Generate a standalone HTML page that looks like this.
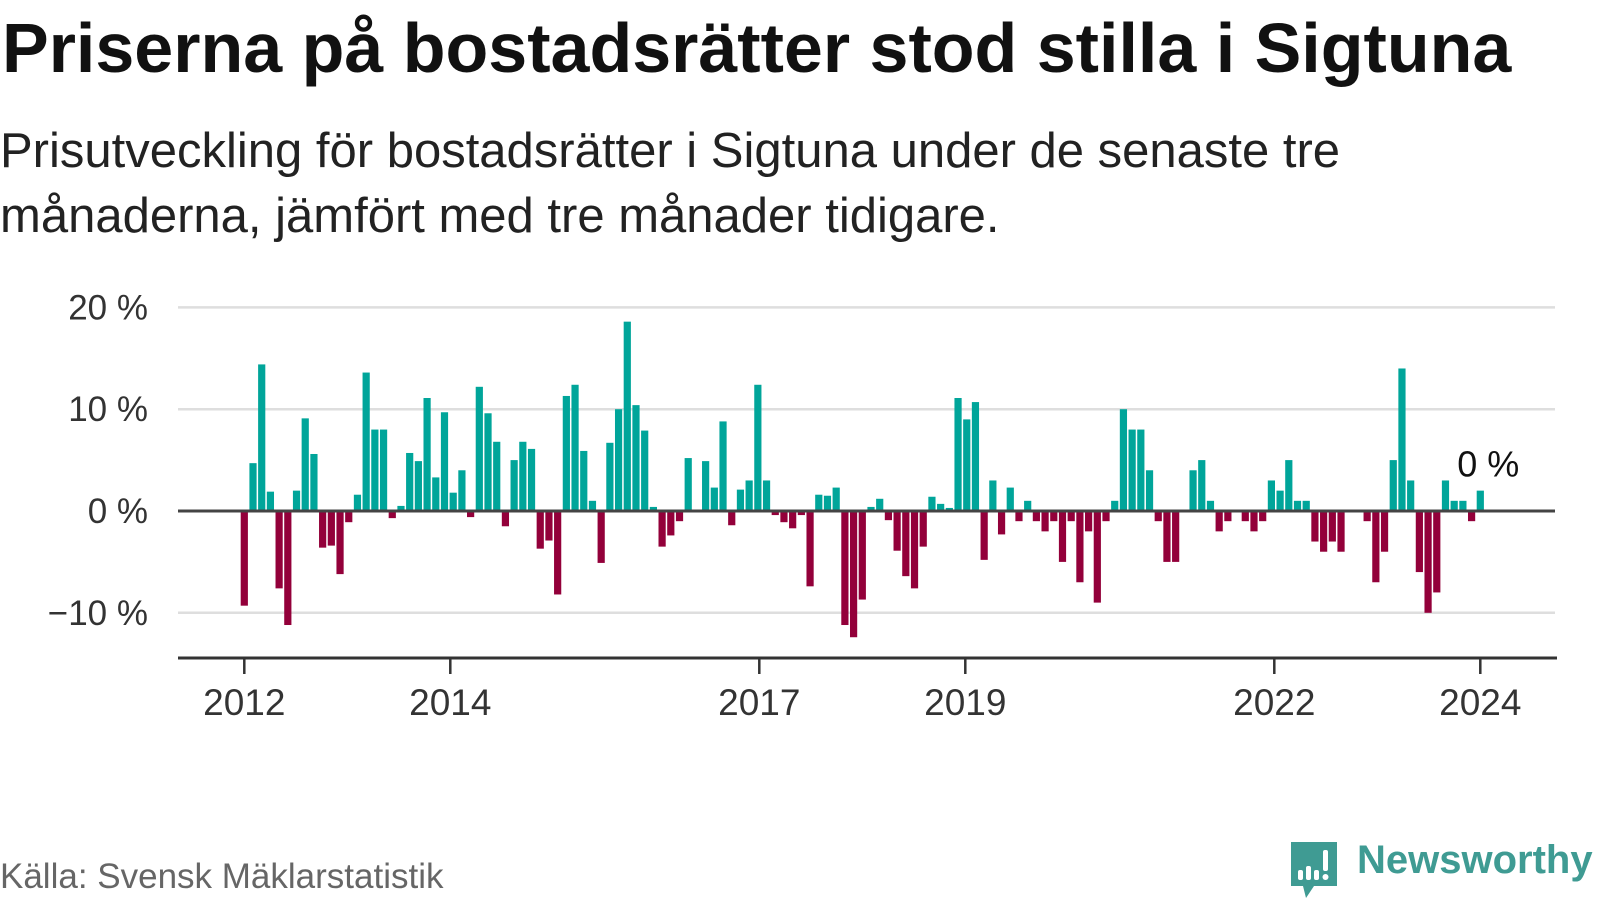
<!DOCTYPE html>
<html><head><meta charset="utf-8">
<style>
body{margin:0;width:1600px;height:900px;background:#fff;overflow:hidden;font-family:"Liberation Sans",sans-serif;}
#title{position:absolute;left:2px;top:13px;font-size:70px;line-height:70px;font-weight:bold;color:#111;margin:0;white-space:nowrap;}
#sub{position:absolute;left:0;top:119px;font-size:49px;line-height:65px;color:#222;width:1580px;white-space:nowrap;}
#src{position:absolute;left:0;top:859px;font-size:35px;line-height:35px;color:#666;white-space:nowrap;}
svg{position:absolute;left:0;top:0;}
</style></head><body>
<h1 id="title">Priserna på bostadsrätter stod stilla i Sigtuna</h1>
<div id="sub">Prisutveckling för bostadsrätter i Sigtuna under de senaste tre<br>månaderna, jämfört med tre månader tidigare.</div>
<div id="src">Källa: Svensk Mäklarstatistik</div>
<svg id="chart" width="1600" height="900"></svg>
<div style="position:absolute;left:1289px;top:840px;">
<svg width="52" height="60" style="position:static"><path d="M2 2h46v44H25l-8 12-3-12H2z" fill="#3f9b93"/><rect x="9" y="30" width="5" height="10" rx="2" fill="#fff"/><rect x="17" y="26" width="5" height="14" rx="2" fill="#fff"/><rect x="25" y="30" width="5" height="10" rx="2" fill="#fff"/><rect x="34" y="10" width="5" height="21" rx="2" fill="#fff"/><circle cx="36.5" cy="37" r="3" fill="#fff"/></svg>
<span style="position:absolute;left:68px;top:-2px;font-size:40px;font-weight:bold;color:#3f9b93;white-space:nowrap;">Newsworthy</span>
</div>
<script>
const values=[-9.3,4.7,14.4,1.9,-7.6,-11.2,2.0,9.1,5.6,-3.6,-3.4,-6.2,-1.1,1.6,13.6,8.0,8.0,-0.7,0.5,5.7,4.9,11.1,3.3,9.7,1.8,4.0,-0.6,12.2,9.6,6.8,-1.5,5.0,6.8,6.1,-3.7,-2.9,-8.2,
11.3,12.4,5.9,1.0,-5.1,6.7,10.0,18.6,10.4,7.9,0.4,-3.5,-2.4,-1.0,5.2,0,4.9,2.3,8.8,-1.4,2.1,3.0,12.4,3.0,-0.4,-1.1,-1.7,-0.4,-7.4,1.6,1.5,2.3,-11.2,-12.4,-8.7,0.4,1.2,
-0.9,-3.9,-6.4,-7.6,-3.5,1.4,0.7,0.3,11.1,9.0,10.7,-4.8,3.0,-2.3,2.3,-1.0,1.0,-1.0,-2.0,-1.0,-5.0,-1.0,-7.0,-2.0,-9.0,-1.0,1.0,10.0,8.0,8.0,4.0,-1.0,-5.0,-5.0,0,4.0,5.0,
1.0,-2.0,-1.0,0,-1.0,-2.0,-1.0,3.0,2.0,5.0,1.0,1.0,-3.0,-4.0,-3.0,-4.0,0,0,-1.0,-7.0,-4.0,5.0,14.0,3.0,-6.0,-10.0,-8.0,3.0,1.0,1.0,-1.0,2.0];
const yTicks=[20,10,0,-10];
const yTickLabels=["20 %","10 %","0 %","\u221210 %"];
const xTicks=[2012,2014,2017,2019,2022,2024];
const lastLabel="0 %";
const NS="http://www.w3.org/2000/svg";
const svg=document.getElementById('chart');
const x0=244.3,x1=1480.3,t0=2012,t1=2024;
const xs=t=>x0+(t-t0)/(t1-t0)*(x1-x0);
const ys=v=>511-v*10.18;
const axisY=658;
function mk(tag,attrs,parent){const e=document.createElementNS(NS,tag);for(const k in attrs)e.setAttribute(k,attrs[k]);(parent||svg).appendChild(e);return e;}
yTicks.forEach((v,i)=>{
  if(v!==0){const g=mk('line',{x1:178,x2:1555,y1:ys(v),y2:ys(v),stroke:'#dedede','stroke-width':2.5});
  
  }
  const t=mk('text',{x:148,y:ys(v)+12,'text-anchor':'end','font-size':35,fill:'#333','font-family':'Liberation Sans, sans-serif'});
  t.textContent=yTickLabels[i];
  
  
});
const n=values.length;
values.forEach((v,i)=>{
  const t=t0+i*(t1-t0)/(n-1);
  const cx=xs(t);
  const y=Math.min(ys(0),ys(v)),h=Math.abs(ys(v)-ys(0));
  const r=mk('rect',{x:cx-3.6,y:y,width:7.2,height:h,fill:v>=0?'#00a59a':'#93003a'});
  
  
});
const zl=mk('line',{x1:178,x2:1555,y1:ys(0),y2:ys(0),stroke:'#444','stroke-width':3});


const ax=mk('line',{x1:178,x2:1557,y1:axisY,y2:axisY,stroke:'#333','stroke-width':3});


xTicks.forEach(yr=>{
  const tk=mk('line',{x1:xs(yr),x2:xs(yr),y1:axisY,y2:axisY+16,stroke:'#333','stroke-width':2.5});
  
  
  const t=mk('text',{x:xs(yr),y:715,'text-anchor':'middle','font-size':37,fill:'#333','font-family':'Liberation Sans, sans-serif'});
  t.textContent=yr;
  
  
});
const ll=mk('text',{x:xs(t1)+8,y:ys(values[n-1])-14,'text-anchor':'middle','font-size':36,fill:'#111','font-family':'Liberation Sans, sans-serif'});
ll.textContent=lastLabel;


</script>
</body></html>
